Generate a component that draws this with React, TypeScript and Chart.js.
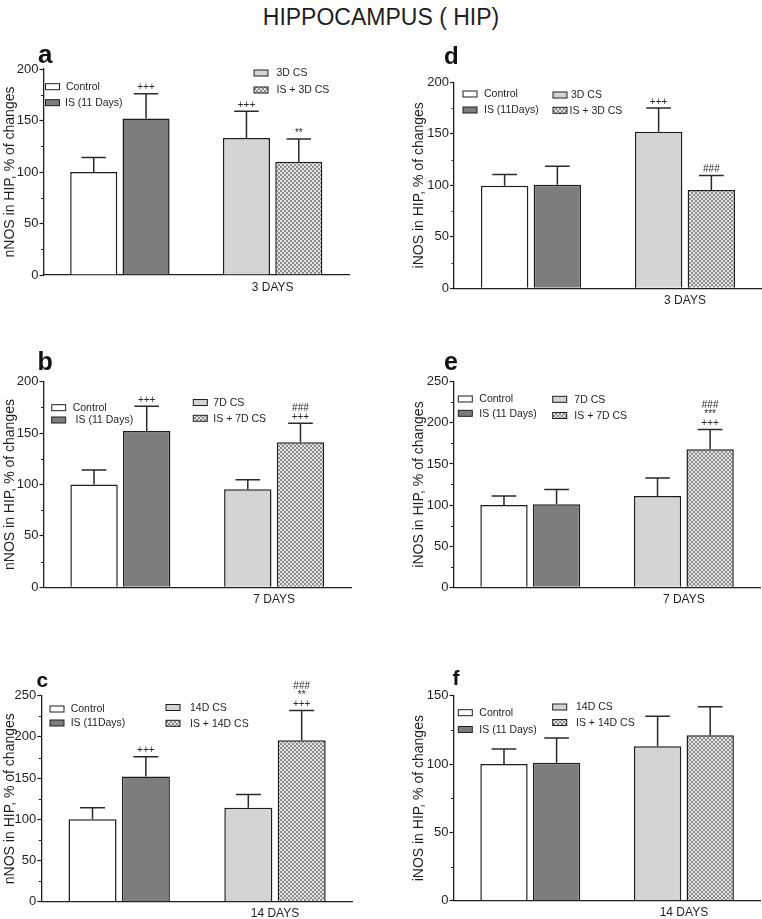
import React, { useEffect, useRef } from "react";
import { Chart, registerables } from "chart.js";

Chart.register(...registerables);

const FONT = "'Liberation Sans', Arial, Helvetica, sans-serif";
Chart.defaults.font.family = FONT;

// ---------------- data ----------------
const CATEGORIES_3D = ["", "3 DAYS"];
const CATEGORIES_7D = ["", "7 DAYS"];
const CATEGORIES_14D = ["", "14 DAYS"];

const NAMES_A = ["Control", "IS (11 Days)", "3D CS", "IS + 3D CS"];
const NAMES_B = ["Control", " IS (11 Days)", "7D CS", "IS + 7D CS"];
const NAMES_C = ["Control", "IS (11Days)", "14D CS", "IS + 14D CS"];
const NAMES_D = ["Control", "IS (11Days)", "3D CS", "IS + 3D CS"];
const NAMES_E = ["Control", "IS (11 Days)", "7D CS", "IS + 7D CS"];
const NAMES_F = ["Control", "IS (11 Days)", "14D CS", "IS + 14D CS"];

// nNOS
const MEAN_A = [100, 152, 133, 110];
const SEM_A = [14, 24, 26, 22];
const SIG_A = [[], ["+++"], ["+++"], ["**"]];

const MEAN_B = [100, 152, 95.5, 141];
const SEM_B = [14, 24, 9, 18.5];
const SIG_B = [[], ["+++"], [], ["###", "+++"]];

const MEAN_C = [100, 152, 114, 196];
const SEM_C = [14, 24, 16, 36];
const SIG_C = [[], ["+++"], [], ["###", "**", "+++"]];

// iNOS
const MEAN_D = [99.5, 100.5, 152, 95.5];
const SEM_D = [11, 18, 23, 14];
const SIG_D = [[], [], ["+++"], ["###"]];

const MEAN_E = [100, 101, 111, 168];
const SEM_E = [11, 18, 22, 24];
const SIG_E = [[], [], [], ["###", "***", "+++"]];

const MEAN_F = [100, 101, 113, 121];
const SEM_F = [11, 18, 22, 21];
const SIG_F = [[], [], [], []];

const Y_TICKS_200 = [0, 50, 100, 150, 200];
const Y_TICKS_250 = [0, 50, 100, 150, 200, 250];
const Y_TICKS_150 = [0, 50, 100, 150];

const Y_TITLE_N = "nNOS in HIP, % of changes";
const Y_TITLE_I = "iNOS in HIP, % of changes";

// ---------------- layout (page coordinates) ----------------
type Layout = {
  canvas: [number, number, number, number];
  area: [number, number, number, number];
  padLeft: number;
  letter: [number, number, number];
  legend: [number, number, number][];
};

const LAYOUT_A: Layout = {
  canvas: [0, 30, 381, 285],
  area: [43.5, 69, 349, 275],
  padLeft: 0,
  letter: [38, 62.5, 26],
  legend: [[45.5, 66, 86.7], [45.5, 65, 102.7], [254, 276.5, 73], [254, 276.5, 90]],
};
const LAYOUT_D: Layout = {
  canvas: [381, 30, 381, 285],
  area: [454, 82.3, 762, 288.3],
  padLeft: 28,
  letter: [444, 63.5, 24],
  legend: [[463, 484, 94], [463, 484, 110], [553, 571, 95], [553, 569.5, 110.3]],
};
const LAYOUT_B: Layout = {
  canvas: [0, 315, 381, 300],
  area: [43.5, 381.7, 351, 587.3],
  padLeft: 0,
  letter: [37.5, 369.5, 25],
  legend: [[51.7, 72.7, 407.7], [51.7, 72.7, 420], [193.3, 213.3, 402.5], [193.3, 213.3, 418.3]],
};
const LAYOUT_E: Layout = {
  canvas: [381, 315, 381, 300],
  area: [453.5, 381.7, 760.6, 587.3],
  padLeft: 28,
  letter: [444, 369.5, 25],
  legend: [[458.3, 479.3, 399], [458.3, 479.3, 413.3], [552.7, 574.3, 399.3], [552.7, 574.3, 415.5]],
};
const LAYOUT_C: Layout = {
  canvas: [0, 615, 381, 304],
  area: [41.3, 695.7, 352.9, 901.7],
  padLeft: 0,
  letter: [36.5, 687, 21],
  legend: [[50, 70.7, 709], [50, 70.7, 723], [166, 190, 707.5], [166, 190, 723.3]],
};
const LAYOUT_F: Layout = {
  canvas: [381, 615, 381, 304],
  area: [453.5, 695.7, 760.7, 900.7],
  padLeft: 28,
  letter: [452.5, 685, 21],
  legend: [[458.3, 479.3, 712.7], [458.3, 479.3, 729.5], [552.7, 576, 707], [552.7, 576, 722.5]],
};

type Spec = {
  key: string;
  categories: string[];
  names: string[];
  means: number[];
  sem: number[];
  sig: string[][];
  yTicks: number[];
  yTitle: string;
  letter: string;
  layout: Layout;
};

const PANELS: Spec[] = [
  { key: "a", categories: CATEGORIES_3D, names: NAMES_A, means: MEAN_A, sem: SEM_A, sig: SIG_A, yTicks: Y_TICKS_200, yTitle: Y_TITLE_N, letter: "a", layout: LAYOUT_A },
  { key: "d", categories: CATEGORIES_3D, names: NAMES_D, means: MEAN_D, sem: SEM_D, sig: SIG_D, yTicks: Y_TICKS_200, yTitle: Y_TITLE_I, letter: "d", layout: LAYOUT_D },
  { key: "b", categories: CATEGORIES_7D, names: NAMES_B, means: MEAN_B, sem: SEM_B, sig: SIG_B, yTicks: Y_TICKS_200, yTitle: Y_TITLE_N, letter: "b", layout: LAYOUT_B },
  { key: "e", categories: CATEGORIES_7D, names: NAMES_E, means: MEAN_E, sem: SEM_E, sig: SIG_E, yTicks: Y_TICKS_250, yTitle: Y_TITLE_I, letter: "e", layout: LAYOUT_E },
  { key: "c", categories: CATEGORIES_14D, names: NAMES_C, means: MEAN_C, sem: SEM_C, sig: SIG_C, yTicks: Y_TICKS_250, yTitle: Y_TITLE_N, letter: "c", layout: LAYOUT_C },
  { key: "f", categories: CATEGORIES_14D, names: NAMES_F, means: MEAN_F, sem: SEM_F, sig: SIG_F, yTicks: Y_TICKS_150, yTitle: Y_TITLE_I, letter: "f", layout: LAYOUT_F },
];

const INK = "#1e1e1e";
const WHITE = "#ffffff";
const DARK = "#7d7d7d";
const LIGHT = "#d4d4d4";

function makeChecker(ctx: CanvasRenderingContext2D): CanvasPattern | string {
  const c = document.createElement("canvas");
  c.width = 4;
  c.height = 4;
  const g = c.getContext("2d");
  if (!g) return "#b5b5b5";
  g.fillStyle = "#e4e4e4";
  g.fillRect(0, 0, 4, 4);
  g.fillStyle = "#8c8c8c";
  g.fillRect(0, 0, 2, 2);
  g.fillRect(2, 2, 2, 2);
  return ctx.createPattern(c, "repeat") || "#b5b5b5";
}

function Panel({ spec }: { spec: Spec }) {
  const ref = useRef<HTMLCanvasElement | null>(null);
  const [cl, ct, cw, ch] = spec.layout.canvas;

  useEffect(() => {
    const canvas = ref.current;
    if (!canvas) return;
    const ctx = canvas.getContext("2d");
    if (!ctx) return;
    const L = spec.layout;
    const [aL, aT, aR, aB] = L.area;
    const checker = makeChecker(ctx);
    const fills: (string | CanvasPattern)[] = [WHITE, DARK, LIGHT, checker];
    const yMax = spec.yTicks[spec.yTicks.length - 1];
    const yStep = spec.yTicks[1] - spec.yTicks[0];

    const decor = {
      id: "decor",
      afterDatasetsDraw(chart: any) {
        const c = chart.ctx as CanvasRenderingContext2D;
        const ys = chart.scales.y;
        c.save();
        for (let i = 0; i < 2; i++) {
          const meta = chart.getDatasetMeta(i);
          for (let j = 0; j < 2; j++) {
            const k = j * 2 + i;
            const bar = meta.data[j] as any;
            if (!bar) continue;
            const x = bar.x;
            const yBar = ys.getPixelForValue(spec.means[k]);
            const yTop = ys.getPixelForValue(spec.means[k] + spec.sem[k]);
            const capW = bar.width * 0.52;
            c.strokeStyle = "#2a2a2a";
            c.lineWidth = 1.5;
            c.beginPath();
            c.moveTo(x, yBar);
            c.lineTo(x, yTop);
            c.moveTo(x - capW / 2, yTop);
            c.lineTo(x + capW / 2, yTop);
            c.stroke();
            const lines = spec.sig[k];
            c.fillStyle = "#2a2a2a";
            c.font = `10px ${FONT}`;
            c.textAlign = "center";
            c.textBaseline = "middle";
            for (let n = 0; n < lines.length; n++) {
              const line = lines[lines.length - 1 - n];
              c.fillText(line, x, yTop - 6 - n * 9);
            }
          }
        }
        c.restore();
      },
      afterDraw(chart: any) {
        const c = chart.ctx as CanvasRenderingContext2D;
        const ys = chart.scales.y;
        const area = chart.chartArea;
        c.save();
        // minor ticks
        c.strokeStyle = INK;
        c.lineWidth = 1.2;
        c.beginPath();
        for (let v = yStep / 2; v < yMax; v += yStep) {
          const y = Math.round(ys.getPixelForValue(v)) + 0.5;
          c.moveTo(area.left - 2.5, y);
          c.lineTo(area.left, y);
        }
        c.stroke();
        // legend
        c.font = `10.5px ${FONT}`;
        c.textAlign = "left";
        c.textBaseline = "middle";
        for (let k = 0; k < 4; k++) {
          const [bx, tx, cy] = L.legend[k];
          const x = bx - cl;
          const y = cy - ct;
          c.fillStyle = fills[k] as any;
          c.fillRect(x, y - 3, 14, 6);
          c.strokeStyle = INK;
          c.lineWidth = 1;
          c.strokeRect(x, y - 3, 14, 6);
          c.fillStyle = INK;
          c.fillText(spec.names[k], tx - cl, y + 0.5);
        }
        // panel letter
        const [lx, lb, ls] = L.letter;
        c.font = `bold ${ls}px ${FONT}`;
        c.fillStyle = "#111";
        c.textBaseline = "alphabetic";
        c.fillText(spec.letter, lx - cl, lb - ct);
        c.restore();
      },
    };

    const chart = new Chart(ctx, {
      type: "bar",
      data: {
        labels: spec.categories,
        datasets: [
          {
            data: [spec.means[0], spec.means[2]],
            backgroundColor: [fills[0], fills[2]] as any,
            borderColor: INK,
            borderWidth: 1.5,
            barPercentage: 0.9,
            categoryPercentage: 0.685,
          },
          {
            data: [spec.means[1], spec.means[3]],
            backgroundColor: [fills[1], fills[3]] as any,
            borderColor: INK,
            borderWidth: 1.5,
            barPercentage: 0.9,
            categoryPercentage: 0.685,
          },
        ],
      },
      options: {
        responsive: false,
        animation: false,
        devicePixelRatio: 1,
        events: [],
        layout: {
          padding: { left: L.padLeft, top: aT - ct, right: cl + cw - aR, bottom: 0 },
        },
        plugins: {
          legend: { display: false },
          tooltip: { enabled: false },
          title: { display: false },
        },
        scales: {
          x: {
            type: "category",
            grid: { display: false, drawTicks: false },
            border: { display: true, color: INK, width: 1.3 },
            ticks: {
              font: { size: 12, family: FONT },
              color: INK,
              padding: 5,
              autoSkip: false,
              maxRotation: 0,
            },
            afterFit: (s: any) => {
              s.height = ct + ch - aB;
            },
          },
          y: {
            min: 0,
            max: yMax,
            grid: {
              display: true,
              drawOnChartArea: false,
              drawTicks: true,
              tickLength: 4,
              tickColor: INK,
              tickWidth: 1.2,
            },
            border: { display: true, color: INK, width: 1.3 },
            ticks: {
              stepSize: yStep,
              font: { size: 13, family: FONT },
              color: INK,
              padding: 1,
            },
            title: {
              display: true,
              text: spec.yTitle,
              font: { size: 14, family: FONT },
              color: INK,
              padding: { top: 1.6, bottom: 0 },
            },
            afterFit: (s: any) => {
              s.width = aL - cl - L.padLeft;
            },
          },
        },
      } as any,
      plugins: [decor as any],
    });
    return () => chart.destroy();
  }, [spec]);

  return (
    <canvas
      ref={ref}
      width={cw}
      height={ch}
      style={{ position: "absolute", left: cl, top: ct, width: cw, height: ch }}
    />
  );
}

export default function App() {
  return (
    <div
      style={{
        position: "absolute",
        left: 0,
        top: 0,
        width: 762,
        height: 919,
        background: "#ffffff",
        overflow: "hidden",
      }}
    >
      <div
        style={{
          position: "absolute",
          left: 0,
          top: 3,
          width: 762,
          textAlign: "center",
          fontFamily: FONT,
          fontSize: 23,
          lineHeight: "28px",
          color: INK,
        }}
      >
        HIPPOCAMPUS ( HIP)
      </div>
      {PANELS.map((p) => (
        <Panel key={p.key} spec={p} />
      ))}
    </div>
  );
}
